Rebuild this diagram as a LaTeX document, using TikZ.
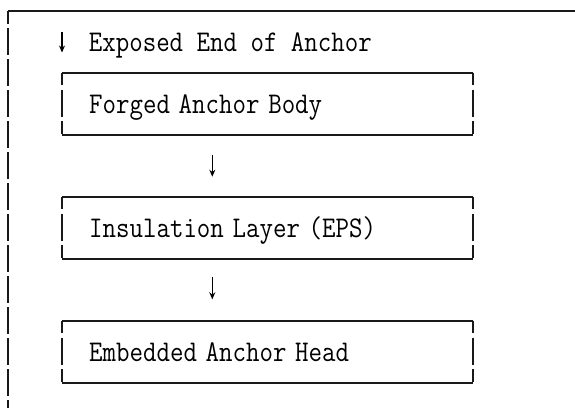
\documentclass[tikz,border=0pt]{standalone}
\usepackage{graphicx}
\usetikzlibrary{arrows.meta}
\newcommand{\tallt}[1]{\scalebox{1.01}[1.16]{#1}}
\begin{document}
\begin{tikzpicture}[x=1pt,y=1pt,
  ink/.style={draw=black!90, line width=2pt},
  txt/.style={font=\fontsize{25.9}{30}\selectfont\ttfamily, text=black, inner sep=0pt},
  boxnode/.style={txt, rectangle, minimum width=411pt, minimum height=61.5pt,
    text width=357pt, align=left, inner xsep=27pt, inner ysep=0pt,
    text height=24pt, text depth=4.5pt, anchor=north west},
  sidedash/.style={ink, dash pattern=on 12.3pt off 4.5pt on 27pt off 4.5pt on 13.2pt off 10pt},
  arr/.style={draw=black, line width=1.3pt, -{Stealth[length=7pt,width=6pt]}}
]
\useasboundingbox (0,0) rectangle (575,-407);
% outer frame
\coordinate (fl) at (7.5,-11);
\coordinate (fr) at (576,-11);
\coordinate (fb) at (7.5,-408);
\draw[ink] (fl) -- (fr);
\draw[ink, dash pattern=on 26.8pt off 4.2pt, dash phase=13.8pt] (fl) -- (fb);
% top label
\coordinate (ta) at (62,-32);
\coordinate (tb) at (62,-52.5);
\draw[arr] (ta) -- (tb);
\node[txt, anchor=base west] (top) at (88.7,-51.7) {\tallt{Exposed End of Anchor}};
% boxes
\node[boxnode] (b1) at (62,-72.7) {\tallt{Forged Anchor Body}};
\node[boxnode] (b2) at (62,-196.7) {\tallt{Insulation Layer (EPS)}};
\node[boxnode] (b3) at (62,-320.7) {\tallt{Embedded Anchor Head}};
\foreach \n in {b1,b2,b3}{
  \draw[ink] (\n.north west) -- (\n.north east);
  \draw[ink] (\n.south west) -- (\n.south east);
  \draw[sidedash] (\n.north west) -- (\n.south west);
  \draw[sidedash] (\n.north east) -- (\n.south east);
}
% arrows
\coordinate (ax) at (212.3,0);
\draw[arr, shorten <=20pt, shorten >=20pt] (b1.south -| ax) -- (b2.north -| ax);
\draw[arr, shorten <=18.8pt, shorten >=21.4pt] (b2.south -| ax) -- (b3.north -| ax);
\end{tikzpicture}
\end{document}
